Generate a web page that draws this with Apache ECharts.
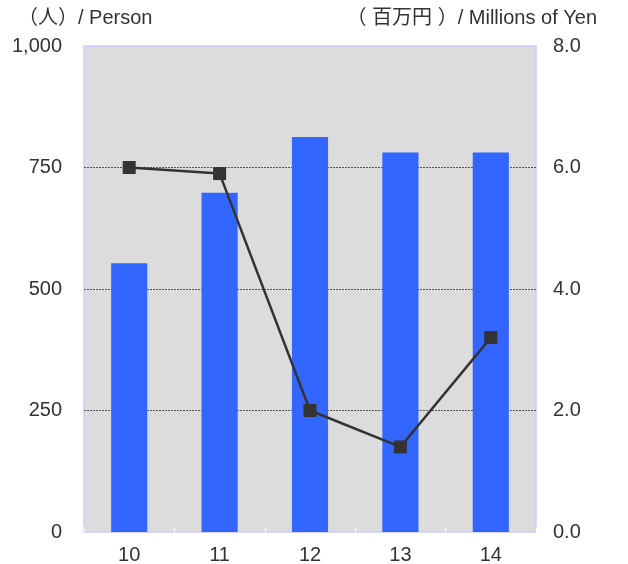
<!DOCTYPE html>
<html><head><meta charset="utf-8">
<script src="https://cdn.jsdelivr.net/npm/echarts@6/dist/echarts.min.js"></script>
<style>html,body{margin:0;padding:0;background:#fff}#c{width:628px;height:564px}</style>
</head><body><div id="c"></div>
<script>
const categories = ['10', '11', '12', '13', '14'];
const personValues = [553, 698, 813, 781, 781];
const yenValues = [6.0, 5.9, 2.0, 1.4, 3.2];
const leftTicks = [0, 250, 500, 750, 1000];
const rightTicks = [0, 2, 4, 6, 8];
const leftName = '（人）/ Person';
const rightName = '（ 百万円 ）/ Millions of Yen';

const FONT = '"Liberation Sans", Arial, "Noto Sans CJK JP", sans-serif';
const chart = echarts.init(document.getElementById('c'), null, {renderer: 'canvas'});
chart.setOption({
  animation: false,
  textStyle: {fontFamily: FONT},
  grid: {left: 84, right: 92, top: 46, bottom: 32, show: true, containLabel: false, outerBoundsMode: 'none',
         backgroundColor: '#DCDCDC', borderColor: '#CCCCFF', borderWidth: 1.5},
  graphic: [
    {type: 'text', left: 18, top: 8, style: {text: leftName, font: '20px ' + FONT, fill: '#333'}},
    {type: 'text', right: 31, top: 8, style: {text: rightName, font: '20px ' + FONT, fill: '#333'}}
  ],
  xAxis: {
    type: 'category', data: categories,
    axisLine: {show: false},
    axisTick: {show: true, inside: true, length: 5, lineStyle: {color: '#ffffff', width: 1}},
    axisLabel: {color: '#333', fontSize: 20, margin: 13, fontFamily: FONT}
  },
  yAxis: [
    {type: 'value', min: leftTicks[0], max: leftTicks[leftTicks.length - 1], interval: leftTicks[1] - leftTicks[0],
     axisLine: {show: false}, axisTick: {show: false},
     axisLabel: {color: '#333', fontSize: 20, margin: 22, fontFamily: FONT,
       formatter: v => v.toLocaleString('en-US')},
     splitLine: {show: true, showMinLine: false, showMaxLine: false, lineStyle: {color: '#555', type: [2, 1], width: 1}}},
    {type: 'value', min: rightTicks[0], max: rightTicks[rightTicks.length - 1], interval: rightTicks[1] - rightTicks[0],
     axisLine: {show: false}, axisTick: {show: false},
     axisLabel: {color: '#333', fontSize: 20, margin: 17, fontFamily: FONT,
       formatter: v => v.toFixed(1)},
     splitLine: {show: false}}
  ],
  series: [
    {type: 'bar', data: personValues, yAxisIndex: 0, barWidth: '40%',
     itemStyle: {color: '#3366FF'}, z: 2},
    {type: 'line', data: yenValues, yAxisIndex: 1, symbol: 'rect', symbolSize: 13,
     lineStyle: {color: '#333', width: 2.5}, itemStyle: {color: '#333'}, z: 3}
  ]
});
</script></body></html>
